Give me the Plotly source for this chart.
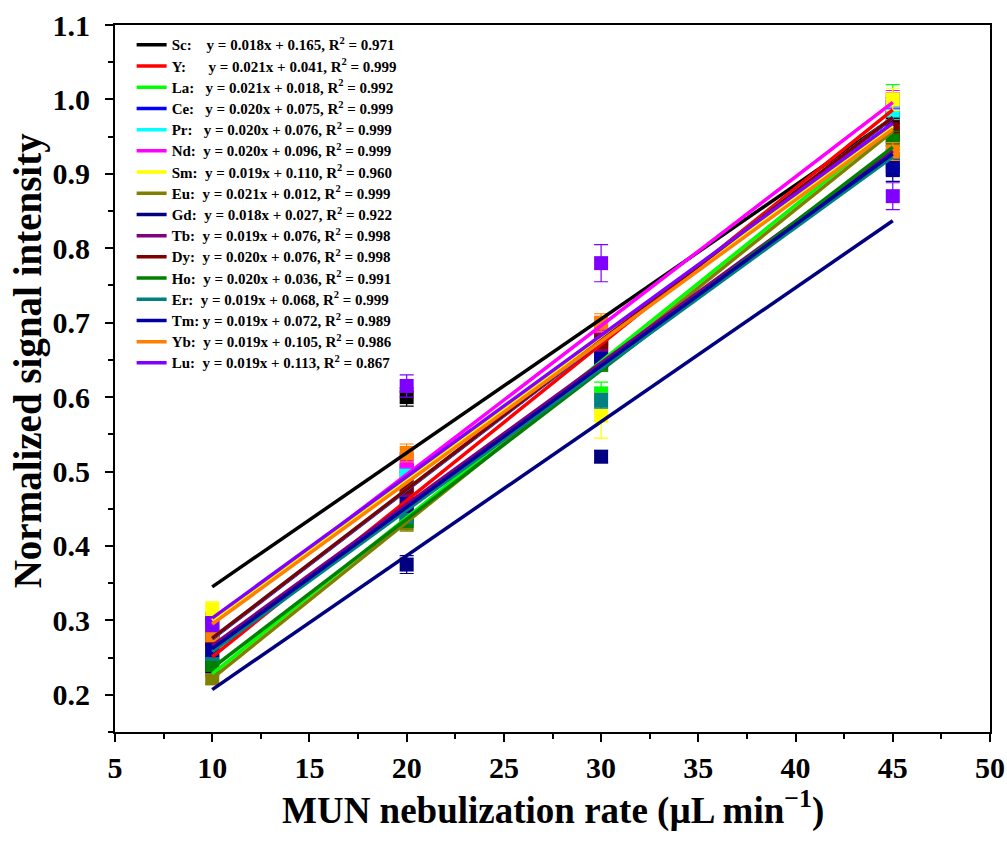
import plotly.graph_objects as go

# Nebulization rates (µL/min)
rates = [10, 20, 30, 45]

elements = ["Sc", "Y", "La", "Ce", "Pr", "Nd", "Sm", "Eu",
            "Gd", "Tb", "Dy", "Ho", "Er", "Tm", "Yb", "Lu"]

colors = ["#000000", "#FF0000", "#00FF00", "#0000FF", "#00FFFF", "#FF00FF",
          "#FFFF00", "#808000", "#000080", "#800080", "#800000", "#008000",
          "#008080", "#0000A0", "#FF8000", "#8000FF"]

# Normalized signal intensity at each rate
sc = [0.300, 0.600, 0.675, 0.975]
y_ = [0.265, 0.460, 0.670, 0.990]
la = [0.235, 0.440, 0.605, 1.000]
ce = [0.280, 0.500, 0.680, 0.990]
pr = [0.285, 0.495, 0.680, 0.985]
nd = [0.290, 0.515, 0.695, 1.000]
sm = [0.315, 0.470, 0.575, 1.000]
eu = [0.222, 0.430, 0.645, 0.955]
gd = [0.240, 0.375, 0.520, 0.905]
tb = [0.270, 0.475, 0.655, 0.950]
dy = [0.275, 0.480, 0.675, 0.960]
ho = [0.240, 0.435, 0.645, 0.945]
er = [0.255, 0.440, 0.595, 0.920]
tm = [0.260, 0.455, 0.650, 0.910]
yb = [0.280, 0.525, 0.700, 0.930]
lu = [0.295, 0.615, 0.780, 0.870]
signals = [sc, y_, la, ce, pr, nd, sm, eu, gd, tb, dy, ho, er, tm, yb, lu]

# Standard deviations
errors = [
    [0.010, 0.012, 0.012, 0.012],
    [0.008, 0.010, 0.010, 0.012],
    [0.010, 0.010, 0.015, 0.020],
    [0.008, 0.010, 0.010, 0.012],
    [0.008, 0.010, 0.010, 0.012],
    [0.008, 0.010, 0.010, 0.012],
    [0.010, 0.010, 0.030, 0.015],
    [0.008, 0.010, 0.010, 0.012],
    [0.010, 0.012, 0.008, 0.015],
    [0.008, 0.010, 0.010, 0.012],
    [0.008, 0.010, 0.010, 0.012],
    [0.008, 0.010, 0.010, 0.012],
    [0.008, 0.010, 0.010, 0.012],
    [0.008, 0.010, 0.010, 0.012],
    [0.008, 0.012, 0.012, 0.012],
    [0.010, 0.015, 0.025, 0.018],
]

# Linear fit parameters
slopes = [0.018, 0.021, 0.021, 0.020, 0.020, 0.020, 0.019, 0.021,
          0.018, 0.019, 0.020, 0.020, 0.019, 0.019, 0.019, 0.019]
intercepts = [0.165, 0.041, 0.018, 0.075, 0.076, 0.096, 0.110, 0.012,
              0.027, 0.076, 0.076, 0.036, 0.068, 0.072, 0.105, 0.113]
r2 = [0.971, 0.999, 0.992, 0.999, 0.999, 0.999, 0.960, 0.999,
      0.922, 0.998, 0.998, 0.991, 0.999, 0.989, 0.986, 0.867]

# Padding after the element label so the equations line up
pads = [3, 5, 2, 2, 2, 1, 1, 1, 1, 1, 1, 1, 1, 0, 1, 1]

FONT = "Liberation Serif, Times New Roman, serif"

fig = go.Figure()

for i, el in enumerate(elements):
    fig.add_trace(go.Scatter(
        x=rates, y=signals[i], mode="markers",
        marker=dict(symbol="square", size=14, color=colors[i], line=dict(width=0)),
        error_y=dict(type="data", array=errors[i], color=colors[i],
                     thickness=1.2, width=7),
        showlegend=False, hoverinfo="skip",
    ))

for i, el in enumerate(elements):
    x0, x1 = rates[0], rates[-1]
    fx = [x0, x1]
    fy = [slopes[i] * x0 + intercepts[i], slopes[i] * x1 + intercepts[i]]
    label = ('<span style="font-size:15px">' + f"{el}:" + "\u00a0" * pads[i] +
             f" y = {slopes[i]:.3f}x + {intercepts[i]:.3f}, "
             f"R<sup>2</sup> = {r2[i]:.3f}</span>")
    fig.add_trace(go.Scatter(
        x=fx, y=fy, mode="lines",
        line=dict(color=colors[i], width=3.5),
        name=label,
    ))

fig.update_layout(
    width=1007, height=848,
    margin=dict(l=115, r=17, t=25, b=116),
    plot_bgcolor="white", paper_bgcolor="white",
    font=dict(family=FONT, color="black"),
    legend=dict(
        x=0.019, y=0.994, xanchor="left", yanchor="top",
        bgcolor="rgba(0,0,0,0)", borderwidth=0,
        font=dict(family=FONT, size=14, weight="bold", color="black"),
        itemwidth=30, tracegroupgap=0,
    ),
    xaxis=dict(
        range=[5, 50], dtick=5, tick0=5, automargin=False,
        showline=True, linecolor="black", linewidth=2, mirror=True,
        ticks="outside", ticklen=8, tickwidth=2, tickcolor="black",
        minor=dict(ticks="outside", ticklen=5, tickwidth=2, dtick=2.5,
                   tickcolor="black", showgrid=False),
        showgrid=False, zeroline=False,
        tickfont=dict(family=FONT, size=30, weight="bold"),
    ),
    yaxis=dict(
        range=[0.15, 1.1], dtick=0.1, tick0=0.2, tickformat=".1f", automargin=False,
        showline=True, linecolor="black", linewidth=2, mirror=True,
        ticks="outside", ticklen=8, tickwidth=2, tickcolor="black",
        ticklabelstandoff=9,
        minor=dict(ticks="outside", ticklen=5, tickwidth=2, dtick=0.05,
                   tickcolor="black", showgrid=False),
        showgrid=False, zeroline=False,
        tickfont=dict(family=FONT, size=30, weight="bold"),
    ),
    annotations=[
        dict(text="MUN nebulization rate (µL min<sup>−1</sup>)",
             xref="paper", yref="paper", x=0.5, y=-0.108,
             xanchor="center", yanchor="middle", showarrow=False,
             font=dict(family=FONT, size=37, weight="bold", color="black")),
        dict(text="Normalized signal intensity",
             xref="paper", yref="paper", x=-0.1, y=0.525, textangle=-90,
             xanchor="center", yanchor="middle", showarrow=False,
             font=dict(family=FONT, size=39, weight="bold", color="black")),
    ],
)

fig.write_html("out.html")
